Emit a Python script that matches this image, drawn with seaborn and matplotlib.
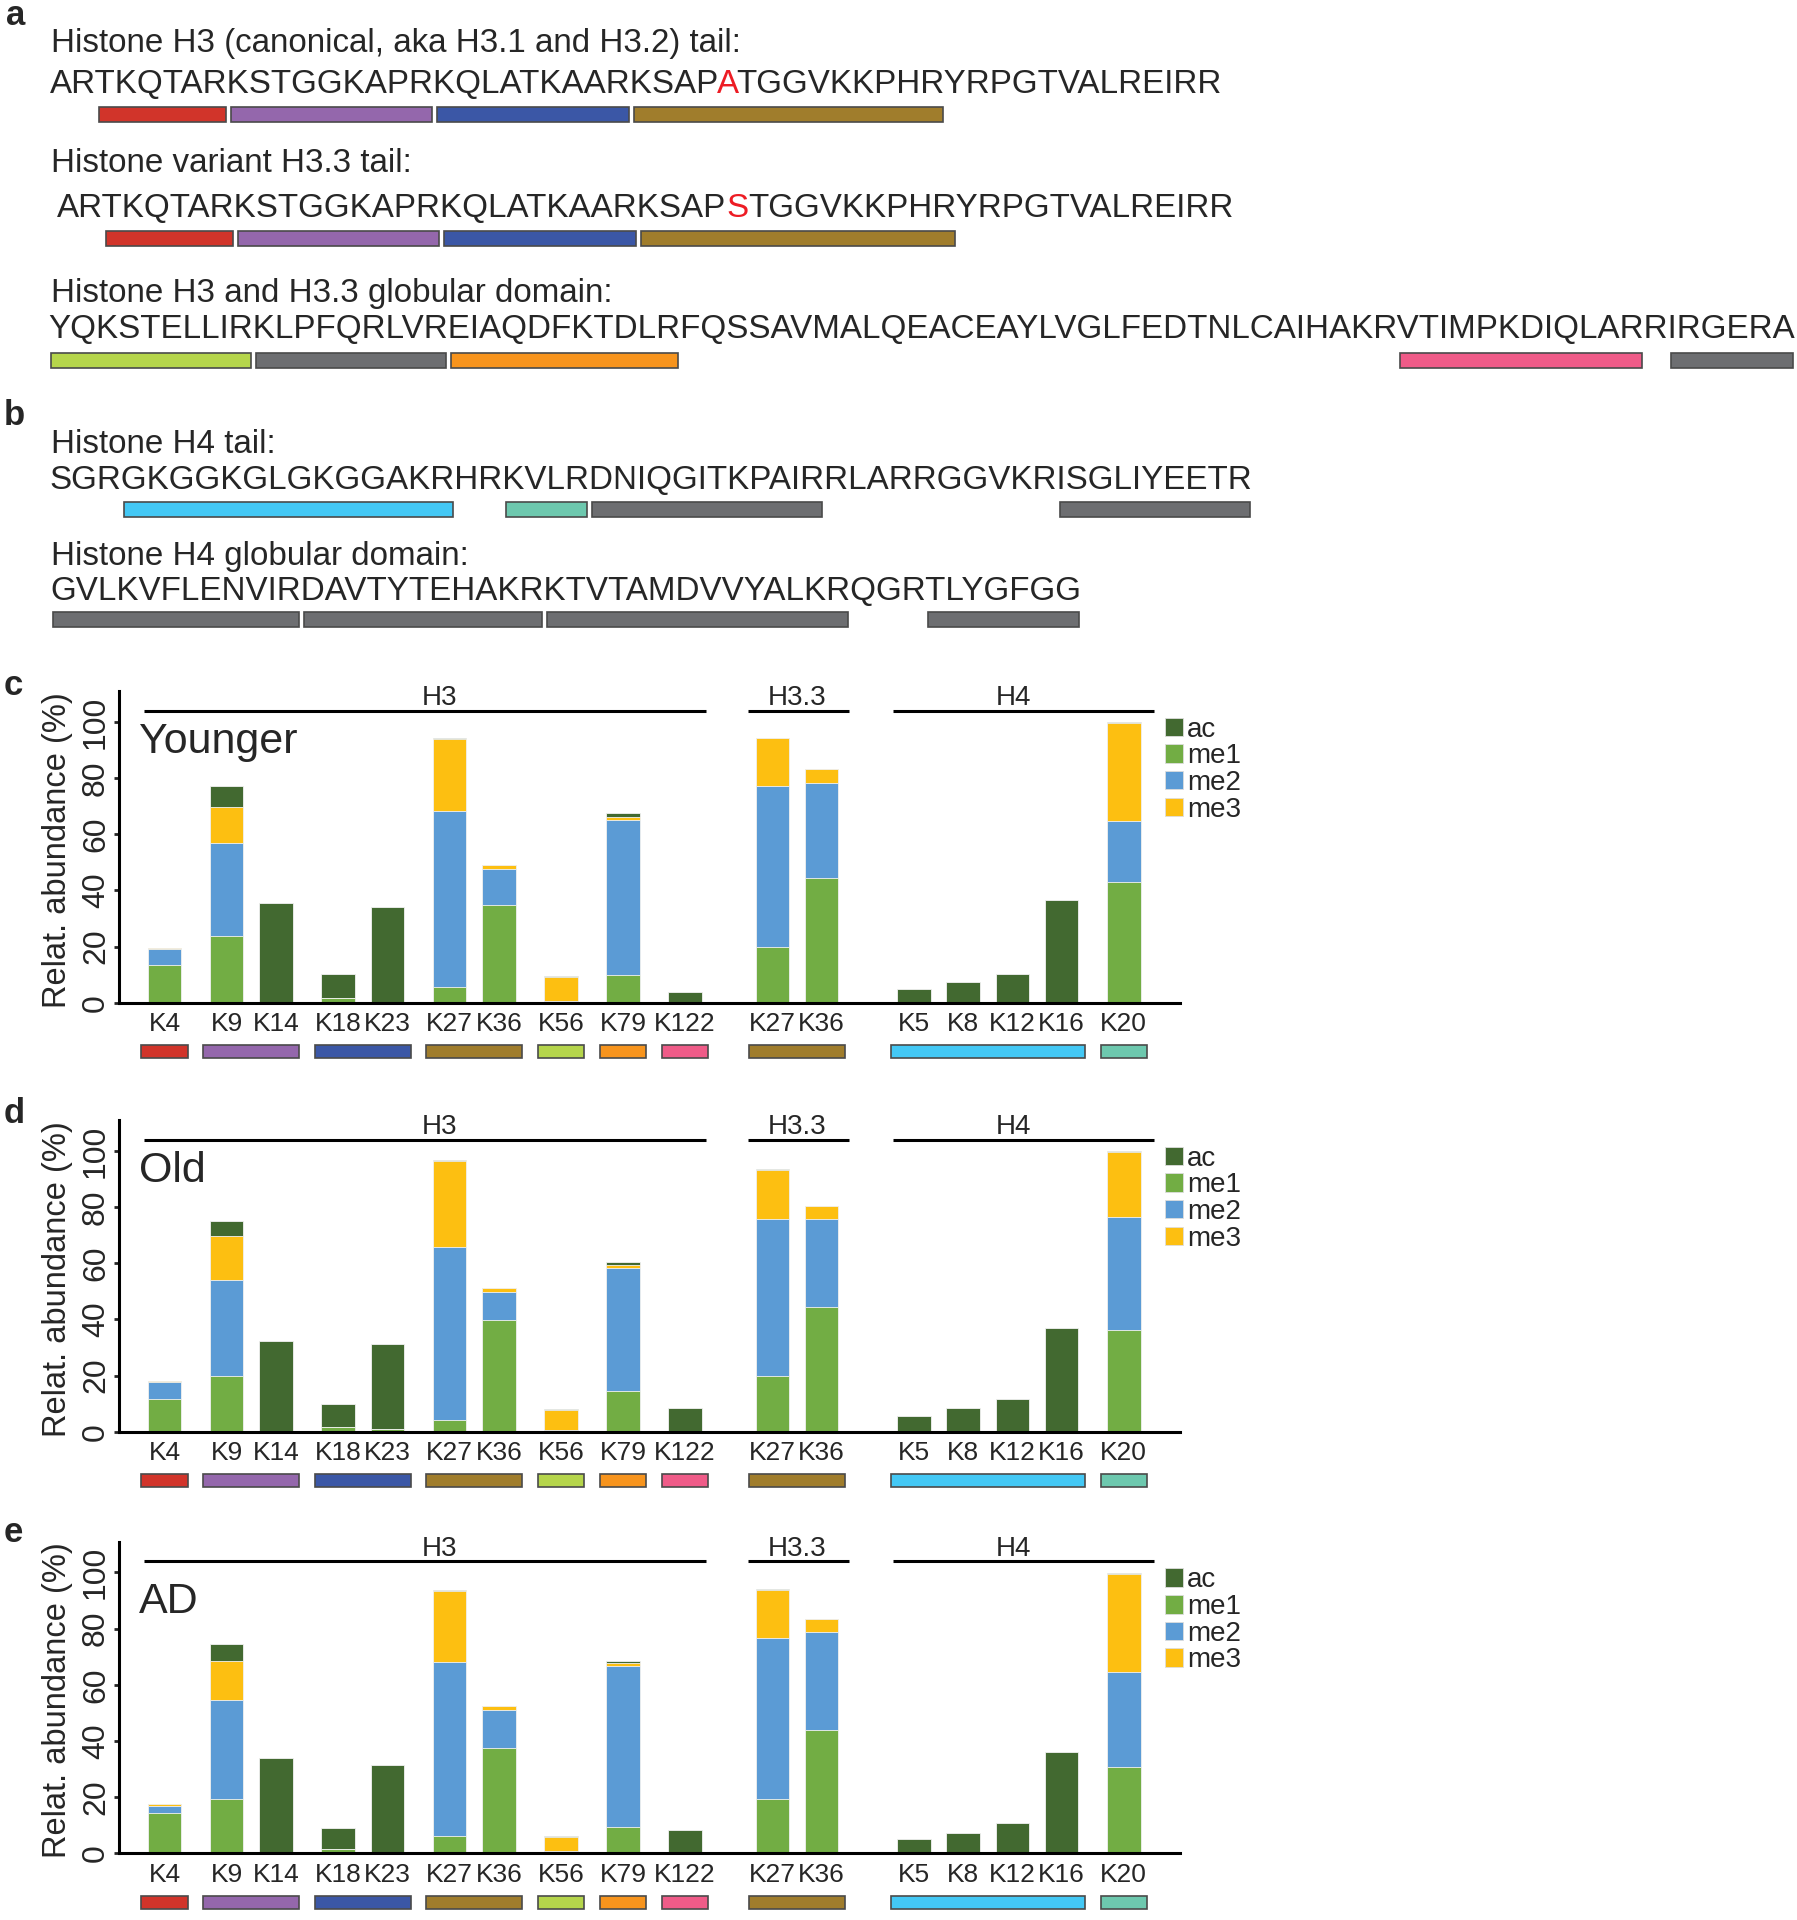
import matplotlib
matplotlib.use("Agg")
import matplotlib.pyplot as plt
from matplotlib.patches import Rectangle, Patch
from matplotlib.font_manager import FontProperties
import numpy as np
import pandas as pd
import seaborn as sns

# ---------------- panel a / b : sequences ----------------
h3_tail = "ARTKQTARKSTGGKAPRKQLATKAARKSAPATGGVKKPHRYRPGTVALREIRR"
h33_tail = "ARTKQTARKSTGGKAPRKQLATKAARKSAPSTGGVKKPHRYRPGTVALREIRR"
h3_glob = "YQKSTELLIRKLPFQRLVREIAQDFKTDLRFQSSAVMALQEACEAYLVGLFEDTNLCAIHAKRVTIMPKDIQLARRIRGERA"
h4_tail = "SGRGKGGKGLGKGGAKRHRKVLRDNIQGITKPAIRRLARRGGVKRISGLIYEETR"
h4_glob = "GVLKVFLENVIRDAVTYTEHAKRKTVTAMDVVYALKRQGRTLYGFGG"

RED, PURPLE, BLUE, OLIVE = "#d1342a", "#9467ac", "#3b57a6", "#a07d2c"
LIME, GREY, ORANGE, PINK = "#b5d54b", "#6d6e71", "#f7941d", "#ef5b88"
CYAN, TEAL = "#43c8f5", "#6dc8ae"

h3_peps = [("TKQTAR", RED), ("KSTGGKAPR", PURPLE), ("KQLATKAAR", BLUE), ("KSAPATGGVKKPHR", OLIVE)]
h33_peps = [("TKQTAR", RED), ("KSTGGKAPR", PURPLE), ("KQLATKAAR", BLUE), ("KSAPSTGGVKKPHR", OLIVE)]
glob_peps = [("YQKSTELLIR", LIME), ("KLPFQRLVR", GREY), ("EIAQDFKTDLR", ORANGE),
             ("VTIMPKDIQLAR", PINK), ("IRGERA", GREY)]
h4_tail_peps = [("GKGGKGLGKGGAKR", CYAN), ("KVLR", TEAL), ("DNIQGITKPAIR", GREY), ("ISGLIYEETR", GREY)]
h4_glob_peps = [("GVLKVFLENVIR", GREY), ("DAVTYTEHAKR", GREY), ("KTVTAMDVVYALKR", GREY), ("TLYGFGG", GREY)]

# ---------------- panels c-e : stacked bars ----------------
sites = ["K4", "K9", "K14", "K18", "K23", "K27", "K36", "K56", "K79", "K122",
         "K27", "K36", "K5", "K8", "K12", "K16", "K20"]
histone = ["H3"] * 10 + ["H3.3"] * 2 + ["H4"] * 5
peptide = [0, 1, 1, 2, 2, 3, 3, 4, 5, 6, 7, 7, 8, 8, 8, 8, 9]
peptide_colors = [RED, PURPLE, BLUE, OLIVE, LIME, ORANGE, PINK, OLIVE, CYAN, TEAL]

young_me1 = [13.4, 23.8, 0, 1.5, 0.3, 5.7, 34.8, 0, 9.9, 0, 19.7, 44.3, 0, 0, 0, 0, 42.9]
young_me2 = [5.6, 32.9, 0, 0, 0, 62.7, 12.8, 0.5, 55.1, 0, 57.5, 34.1, 0, 0, 0, 0, 21.7]
young_me3 = [0.5, 13.1, 0, 0, 0, 25.5, 1.4, 8.6, 1.0, 0, 16.9, 4.9, 0, 0, 0, 0, 35.0]
young_ac = [0, 7.5, 35.4, 8.7, 33.7, 0.4, 0, 0.3, 1.5, 3.7, 0.3, 0, 4.8, 7.2, 10.2, 36.6, 0.3]

old_me1 = [11.8, 19.8, 0, 1.8, 0.8, 4.3, 39.6, 0, 14.4, 0, 19.8, 44.4, 0, 0, 0, 0, 36.2]
old_me2 = [6.0, 34.4, 0, 0, 0, 61.5, 10.3, 0.7, 43.9, 0, 56.1, 31.3, 0, 0, 0, 0, 40.1]
old_me3 = [0.4, 15.5, 0, 0, 0, 30.6, 1.1, 7.0, 1.2, 0, 17.2, 4.5, 0, 0, 0, 0, 23.2]
old_ac = [0, 5.3, 32.4, 8.0, 30.3, 0.4, 0, 0.3, 1.1, 8.5, 0.3, 0, 5.6, 8.4, 11.8, 36.8, 0.3]

ad_me1 = [14.2, 19.3, 0, 1.5, 0.6, 6.3, 37.6, 0, 9.5, 0, 19.2, 43.8, 0, 0, 0, 0, 30.8]
ad_me2 = [2.7, 35.2, 0, 0, 0, 61.8, 13.3, 0.7, 57.3, 0, 57.5, 34.9, 0, 0, 0, 0, 33.7]
ad_me3 = [0.6, 14.0, 0, 0, 0, 25.3, 1.5, 5.0, 0.9, 0, 17.0, 4.6, 0, 0, 0, 0, 35.0]
ad_ac = [0, 5.9, 33.9, 7.4, 30.7, 0.4, 0, 0.3, 0.9, 8.4, 0.3, 0, 5.0, 7.3, 10.9, 36.1, 0.3]

mod_names = ["me1", "me2", "me3", "ac"]
mod_colors = {"ac": "#426930", "me1": "#72ad44", "me2": "#5b9bd5", "me3": "#fdbf11"}

sns.set_style("ticks")
plt.rcParams["font.family"] = ["Liberation Sans", "DejaVu Sans"]

W, H = 1797, 1920
fig = plt.figure(figsize=(W / 100, H / 100), dpi=100)
renderer = fig.canvas.get_renderer()

# overlay axes in pixel units for the sequence panels and panel letters
ax0 = fig.add_axes([0, 0, 1, 1])
ax0.set_xlim(0, W)
ax0.set_ylim(H, 0)
ax0.axis("off")


def text_w(s, size):
    fp = FontProperties(family="Liberation Sans", size=size)
    return renderer.get_text_width_height_descent(s, fp, ismath=False)[0]


fs = 20 * (1789.7 - 48.3) / text_w(h3_glob, 20)


def char_start(seq, k, x0):
    return x0 + text_w(seq[:k + 1], fs) - text_w(seq[k], fs)


def char_end(seq, k, x0):
    return x0 + text_w(seq[:k + 1], fs)


def draw_seq(seq, x0, y, peps, bar_top, red_idx=None):
    if red_idx is None:
        ax0.text(x0, y, seq, fontsize=fs, va="baseline", ha="left")
    else:
        ax0.text(x0, y, seq[:red_idx], fontsize=fs, va="baseline", ha="left")
        ax0.text(char_start(seq, red_idx, x0), y, seq[red_idx], fontsize=fs,
                 va="baseline", ha="left", color="#ed1c24")
        ax0.text(char_start(seq, red_idx + 1, x0), y, seq[red_idx + 1:], fontsize=fs,
                 va="baseline", ha="left")
    for pep, col in peps:
        s = seq.find(pep)
        e = s + len(pep) - 1
        xa = char_start(seq, s, x0) + 3
        xb = char_end(seq, e, x0) - 2
        ax0.add_patch(Rectangle((xa, bar_top), xb - xa, 15, facecolor=col,
                                edgecolor="#4a4a4a", lw=1.2))


ax0.text(6, 25, "a", fontsize=25, fontweight="bold", va="baseline")
ax0.text(51, 51.7, "Histone H3 (canonical, aka H3.1 and H3.2) tail:", fontsize=fs, va="baseline")
draw_seq(h3_tail, 50, 92.7, h3_peps, 107.3, red_idx=30)
ax0.text(51, 171.7, "Histone variant H3.3 tail:", fontsize=fs, va="baseline")
draw_seq(h33_tail, 57.3, 216.7, h33_peps, 231, red_idx=30)
ax0.text(51, 301.7, "Histone H3 and H3.3 globular domain:", fontsize=fs, va="baseline")
draw_seq(h3_glob, 48.3, 338.3, glob_peps, 353.3)

ax0.text(4, 425, "b", fontsize=25, fontweight="bold", va="baseline")
ax0.text(50.7, 453.3, "Histone H4 tail:", fontsize=fs, va="baseline")
draw_seq(h4_tail, 49.3, 489.3, h4_tail_peps, 501.7)
ax0.text(50.7, 565, "Histone H4 globular domain:", fontsize=fs, va="baseline")
draw_seq(h4_glob, 50, 600, h4_glob_peps, 611.7)

# bar positions: 1.0 within a peptide, 1.26 between peptides, wider between histones
histone_gap = {"H3.3": 1.77, "H4": 1.87}
positions = [0.0]
for i in range(1, len(sites)):
    if histone[i] != histone[i - 1]:
        step = histone_gap[histone[i]]
    elif peptide[i] != peptide[i - 1]:
        step = 1.26
    else:
        step = 1.0
    positions.append(positions[-1] + step)
positions = np.array(positions)

# extra reach of the histone lines left/right of the outer bars, label nudge
line_pad = {"H3": (0.42, 0.42, 0.3), "H3.3": (0.5, 0.55, 0.0), "H4": (0.42, 0.62, -0.1)}


def draw_panel(zero_px, letter, letter_y, title, title_y, me1, me2, me3, ac):
    left = 118.7 / W
    width = (1180 - 118.7) / W
    height = 311.7 / H
    ax = fig.add_axes([left, 1 - zero_px / H, width, height])
    ax.patch.set_alpha(0)

    df = pd.DataFrame({"pos": positions, "me1": me1, "me2": me2, "me3": me3, "ac": ac})
    cum = df[mod_names].cumsum(axis=1)
    for mod in ["ac", "me3", "me2", "me1"]:
        sns.barplot(x=df["pos"], y=cum[mod], native_scale=True, color=mod_colors[mod],
                    saturation=1, width=0.68, errorbar=None, edgecolor="#f2f2f2",
                    linewidth=0.6, ax=ax)

    ax.set_xlim(-0.93, 20.6)
    ax.set_ylim(0, 111)
    sns.despine(ax=ax)
    for sp in ["left", "bottom"]:
        ax.spines[sp].set_linewidth(2.2)
        ax.spines[sp].set_color("black")
    ax.set_xticks(positions, sites)
    ax.set_yticks([0, 20, 40, 60, 80, 100])
    ax.tick_params(axis="x", length=0, pad=7, labelsize=19)
    ax.tick_params(axis="y", length=3.6, width=2, direction="out", pad=2,
                   labelsize=23, labelrotation=90)
    for lab in ax.get_yticklabels():
        lab.set_va("center")
    ax.set_xlabel("")
    ax.set_ylabel("Relat. abundance (%)", fontsize=23.5)
    ax.yaxis.set_label_coords(-0.043, 0.49)

    ax.text(0.019, title_y, title, transform=ax.transAxes, fontsize=31, va="baseline")

    # histone group lines above the bars
    for h in ["H3", "H3.3", "H4"]:
        xs = positions[[i for i in range(len(sites)) if histone[i] == h]]
        pl, pr, nudge = line_pad[h]
        ax.plot([xs.min() - pl, xs.max() + pr], [104, 104], color="black", lw=2.2,
                clip_on=False, solid_capstyle="butt")
        ax.text((xs.min() + xs.max()) / 2 + nudge, 106, h, ha="center", va="baseline",
                fontsize=20, clip_on=False)

    # peptide colour keys under the axis
    for g, col in enumerate(peptide_colors):
        xs = positions[[i for i in range(len(sites)) if peptide[i] == g]]
        ax.add_patch(Rectangle((xs.min() - 0.47, -19.7), xs.max() - xs.min() + 0.94, 4.6,
                               facecolor=col, edgecolor="#4a4a4a", lw=1.2, clip_on=False))

    handles = [Patch(facecolor=mod_colors[m], edgecolor="#dddddd", lw=0.6)
               for m in ["ac", "me1", "me2", "me3"]]
    ax.legend(handles, ["ac", "me1", "me2", "me3"], loc="upper left",
              bbox_to_anchor=(0.986, 0.917), frameon=False, fontsize=20,
              handlelength=0.65, handleheight=0.65, handletextpad=0.15,
              labelspacing=0.02, borderpad=0, borderaxespad=0)

    ax0.text(4, letter_y, letter, fontsize=25, fontweight="bold", va="baseline")
    return ax


draw_panel(1002.7, "c", 695, "Younger", 0.80, young_me1, young_me2, young_me3, young_ac)
draw_panel(1431.7, "d", 1123, "Old", 0.80, old_me1, old_me2, old_me3, old_ac)
draw_panel(1853.3, "e", 1541.7, "AD", 0.77, ad_me1, ad_me2, ad_me3, ad_ac)

fig.savefig("out.png", dpi=100, facecolor="white")
